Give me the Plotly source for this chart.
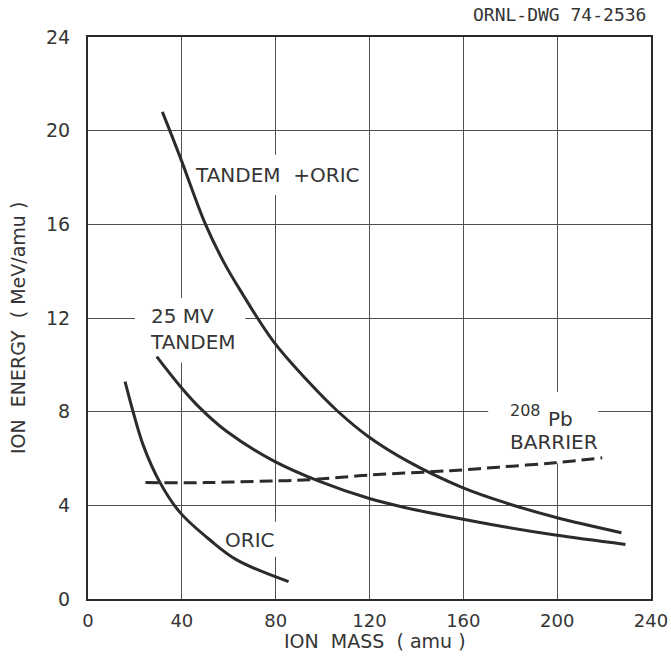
import plotly.graph_objects as go

# Data
tor_x = [31.7, 39.2, 49.9, 57.7, 64.8, 79.1, 93.3, 106.1, 119.6, 136, 159.4, 178.6, 199.2, 227.4]
tor_y = [20.8, 18.89, 16.04, 14.42, 13.2, 10.99, 9.35, 8.05, 6.93, 5.9, 4.77, 4.09, 3.49, 2.83]

tan_x = [29.3, 39.2, 47.8, 59.2, 79.1, 99, 119.6, 134.5, 154.4, 178.6, 199.2, 229.1]
tan_y = [10.35, 9.1, 8.15, 7.15, 5.9, 5.01, 4.30, 3.92, 3.51, 3.06, 2.73, 2.33]

oric_x = [15.8, 19.1, 23.6, 30.7, 39.2, 52, 63.4, 85.5]
oric_y = [9.28, 8.04, 6.55, 4.97, 3.7, 2.52, 1.67, 0.74]

bar_x = [24.5, 50, 77.6, 92, 119.6, 154.4, 175, 199.2, 219.2]
bar_y = [4.97, 4.97, 5.04, 5.08, 5.29, 5.48, 5.63, 5.82, 6.03]

x_ticks = [0, 40, 80, 120, 160, 200, 240]
y_ticks = [0, 4, 8, 12, 16, 20, 24]

FONT = "DejaVu Sans"
ink = "#2b2b2b"
txt = "#353535"
grid = "#4f4f4f"

fig = go.Figure()
for xs, ys, dash in [(tor_x, tor_y, "solid"), (tan_x, tan_y, "solid"),
                     (oric_x, oric_y, "solid"), (bar_x, bar_y, "13px,6px")]:
    fig.add_trace(go.Scatter(x=xs, y=ys, mode="lines",
                             line=dict(color=ink, width=3, dash=dash, shape="spline", smoothing=1.0),
                             showlegend=False, hoverinfo="skip"))

# white masks that interrupt the grid behind the labels (above grid, below curves)
for x0, x1, y0, y1 in [(43.5, 116, 17.25, 18.97), (20, 67, 10.1, 12.85),
                       (54, 82.8, 1.8, 3.3), (170.6, 217.6, 5.8, 8.84)]:
    fig.add_shape(type="rect", x0=x0, x1=x1, y0=y0, y1=y1, layer="between",
                  fillcolor="white", line=dict(width=0))

ann_font = dict(family=FONT, size=20, color=txt)
fig.add_annotation(x=44.8, y=18.1, text="TANDEM\u00a0 +ORIC", showarrow=False,
                   xanchor="left", yanchor="middle", font=ann_font)
fig.add_annotation(x=25.6, y=11.55, text="25\u00a0MV<br>TANDEM", showarrow=False,
                   xanchor="left", yanchor="middle", align="left", font=ann_font)
fig.add_annotation(x=57.7, y=2.52, text="ORIC", showarrow=False,
                   xanchor="left", yanchor="middle", font=ann_font)
fig.add_annotation(x=179.2, y=8.07, text="208", showarrow=False,
                   xanchor="left", yanchor="middle", font=dict(family=FONT, size=16, color=txt))
fig.add_annotation(x=195.1, y=7.7, text="Pb", showarrow=False,
                   xanchor="left", yanchor="middle", font=ann_font)
fig.add_annotation(x=179.2, y=6.7, text="BARRIER", showarrow=False,
                   xanchor="left", yanchor="middle", font=ann_font)
fig.add_annotation(x=1.0, y=1.0, xref="paper", yref="paper", xanchor="right",
                   yanchor="middle", xshift=-3, yshift=23, text="ORNL-DWG 74-2536",
                   showarrow=False, font=dict(family="DejaVu Sans Mono", size=18, color=txt))

# axis titles
fig.add_annotation(x=(18 - 88) / 563, y=(599 - 328) / 562, xref="paper", yref="paper",
                   text="ION\u00a0\u00a0ENERGY\u00a0\u00a0(\u00a0MeV/amu\u00a0)", textangle=-90,
                   showarrow=False, xanchor="center", yanchor="middle",
                   font=dict(family=FONT, size=19, color=txt))
fig.add_annotation(x=(375 - 88) / 563, y=-(641 - 599) / 562, xref="paper", yref="paper",
                   text="ION\u00a0\u00a0MASS\u00a0\u00a0(\u00a0amu\u00a0)", showarrow=False,
                   xanchor="center", yanchor="middle",
                   font=dict(family=FONT, size=19, color=txt))

fig.update_xaxes(range=[0, 240], tickvals=x_ticks, ticktext=[str(v) for v in x_ticks],
                 showgrid=True, gridcolor=grid, gridwidth=1, zeroline=False,
                 showline=True, linecolor=ink, linewidth=2, mirror=True, ticks="",
                 automargin=False, ticklabelstandoff=4,
                 tickfont=dict(family=FONT, size=18, color=txt))
fig.update_yaxes(range=[0, 24], tickvals=y_ticks, ticktext=[str(v) for v in y_ticks],
                 showgrid=True, gridcolor=grid, gridwidth=1, zeroline=False,
                 showline=True, linecolor=ink, linewidth=2, mirror=True, ticks="",
                 automargin=False, ticklabelstandoff=12,
                 tickfont=dict(family=FONT, size=19, color=txt))
fig.update_layout(width=671, height=661, plot_bgcolor="white", paper_bgcolor="white",
                  margin=dict(l=88, r=20, t=37, b=62), hovermode=False)
# remove the page's default body margin so the figure fills the window
fig.write_html("out.html", config={"displayModeBar": False, "staticPlot": True},
               post_script="document.body.style.margin='0';document.body.style.overflow='hidden';")
